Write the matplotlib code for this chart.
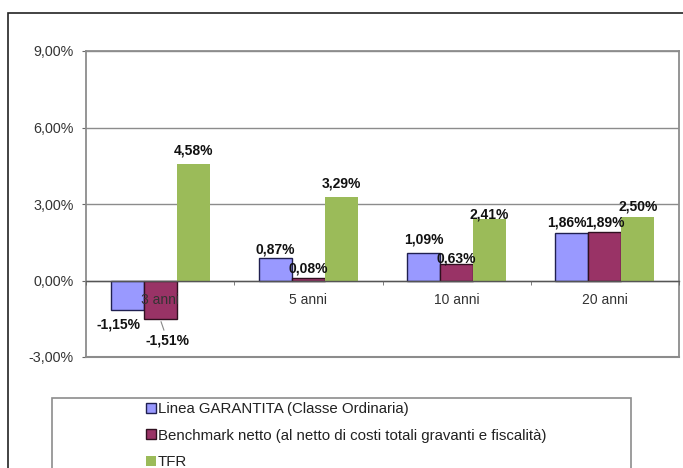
import matplotlib
matplotlib.use("Agg")
import matplotlib.pyplot as plt
from matplotlib.patches import Rectangle
from matplotlib.ticker import FuncFormatter
import numpy as np

plt.rcParams['font.family'] = ['Liberation Sans', 'DejaVu Sans']

# data
categories = ["3 anni", "5 anni", "10 anni", "20 anni"]
series_names = [
    "Linea GARANTITA (Classe Ordinaria)",
    "Benchmark netto (al netto di costi totali gravanti e fiscalità)",
    "TFR",
]
garantita = [-1.15, 0.87, 1.09, 1.86]
benchmark = [-1.51, 0.08, 0.63, 1.89]
tfr = [4.58, 3.29, 2.41, 2.50]
y_ticks = [-3, 0, 3, 6, 9]

colors = ["#9999FF", "#993366", "#9BBB59"]
edges = ["#202050", "#301020", "none"]

# label nudges in pixels (dx, distance from bar end), per series x category
label_shift = [
    [(-9, 15), (0, 9), (0, 13), (-5, 11)],
    [(7, 21), (0, 10), (0, 6), (0, 10)],
    [(0, 13), (0, 13), (0, 5), (0, 10)],
]

W, H = 683, 468
fig = plt.figure(figsize=(W / 100, H / 100), dpi=100)
ax = fig.add_axes([86 / W, 1 - 357 / H, (679 - 86) / W, (357 - 51) / H])

# outer chart frame (cut by the picture edge)
fig.patches.append(Rectangle((8 / W, -0.1), 1.2, 1 - 13 / H + 0.1,
                             transform=fig.transFigure, fill=False,
                             edgecolor="#222222", linewidth=1.2))

x = np.arange(len(categories))
width = 0.223
px = 72 / 100  # points per pixel
values = [garantita, benchmark, tfr]
for i, (vals, name) in enumerate(zip(values, series_names)):
    xs = x + (i - 1) * width
    ax.bar(xs, vals, width, color=colors[i], edgecolor=edges[i],
           linewidth=1.0 if edges[i] != "none" else 0, label=name, zorder=2)
    for j, (xx, v) in enumerate(zip(xs, vals)):
        dx, dy = label_shift[i][j]
        sign = 1 if v >= 0 else -1
        txt = f"{v:.2f}%".replace(".", ",")
        arrow = None
        if i == 1 and j == 0:
            arrow = dict(arrowstyle="-", color="#888888", lw=0.8,
                         shrinkA=0, shrinkB=2, relpos=(0.45, 1.0))
        ax.annotate(txt, (xx, v), xytext=(dx * px, sign * dy * px),
                    textcoords="offset points", ha="center", va="center",
                    fontsize=10, fontweight="bold", color="#111111",
                    arrowprops=arrow, zorder=6)

ax.set_xlim(-0.5, len(categories) - 0.5)
ax.set_ylim(-3, 9)
ax.set_yticks(y_ticks)
ax.yaxis.set_major_formatter(FuncFormatter(lambda v, p: f"{v:.2f}%".replace(".", ",")))

ax.set_axisbelow(True)
ax.yaxis.grid(True, color="#8c8c8c", linewidth=1.0)
ax.xaxis.set_zorder(5)

ax.set_xticks(x)
ax.set_xticklabels(categories)
ax.set_xticks(np.arange(len(categories) + 1) - 0.5, minor=True)
ax.tick_params(axis="x", which="major", length=0, pad=9, labelsize=10, labelcolor="#333333")
ax.tick_params(axis="x", which="minor", length=3, direction="out", color="#666666")
ax.tick_params(axis="y", length=3, pad=6, labelsize=10.3, labelcolor="#333333", color="#666666")

for s in ["top", "right", "left"]:
    ax.spines[s].set_color("#8c8c8c")
    ax.spines[s].set_linewidth(1.3)
ax.spines["bottom"].set_position(("data", 0))
ax.spines["bottom"].set_color("#555555")
ax.spines["bottom"].set_linewidth(1.0)
ax.axhline(-3, color="#8c8c8c", linewidth=1.5, clip_on=False, zorder=1)

# legend frame, also cut by the picture edge
fig.patches.append(Rectangle((52 / W, -0.1), (631 - 52) / W, 1 - 398 / H + 0.1,
                             transform=fig.transFigure, fill=False,
                             edgecolor="#8c8c8c", linewidth=1.2))
handles, labels = ax.get_legend_handles_labels()
fig.legend(handles, labels, loc="upper left", bbox_to_anchor=(146 / W, 1 - 402 / H),
           frameon=False, borderpad=0, borderaxespad=0, handlelength=0.65,
           handleheight=0.65, handletextpad=0.15, labelspacing=0.85,
           fontsize=10.8, labelcolor="#222222")

fig.savefig("out.png", dpi=100)
